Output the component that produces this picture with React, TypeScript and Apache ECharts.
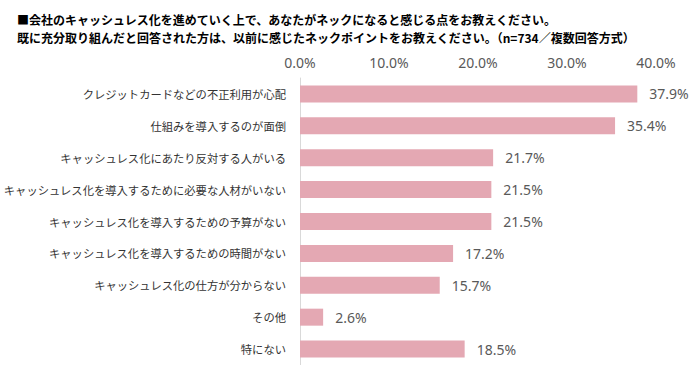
import React, { useEffect, useRef } from "react";
import * as echarts from "echarts";

const titleLines = [
  "■会社のキャッシュレス化を進めていく上で、あなたがネックになると感じる点をお教えください。",
  "既に充分取り組んだと回答された方は、以前に感じたネックポイントをお教えください。（n=734／複数回答方式）",
];

const categories = [
  "クレジットカードなどの不正利用が心配",
  "仕組みを導入するのが面倒",
  "キャッシュレス化にあたり反対する人がいる",
  "キャッシュレス化を導入するために必要な人材がいない",
  "キャッシュレス化を導入するための予算がない",
  "キャッシュレス化を導入するための時間がない",
  "キャッシュレス化の仕方が分からない",
  "その他",
  "特にない",
];

const values = [37.9, 35.4, 21.7, 21.5, 21.5, 17.2, 15.7, 2.6, 18.5];

const FONT = "'Noto Sans CJK JP', 'Noto Sans', sans-serif";
const NUMFONT = "'Noto Sans', 'DejaVu Sans', sans-serif";

export default function App() {
  const ref = useRef<HTMLDivElement>(null);
  useEffect(() => {
    document.body.style.margin = "0";
    const chart = echarts.init(ref.current!, null, { renderer: "svg" });
    chart.setOption({
      animation: false,
      textStyle: { fontFamily: FONT },
      title: {
        text: titleLines.join("\n"),
        left: 12,
        top: 5,
        textStyle: {
          fontFamily: FONT,
          fontSize: 12,
          fontWeight: "bold",
          color: "#000",
          lineHeight: 18,
        },
      },
      grid: { left: 300, right: 44, top: 78, bottom: 0, outerBoundsMode: "none", containLabel: false },
      xAxis: {
        type: "value",
        position: "top",
        min: 0,
        max: 40,
        interval: 10,
        axisLine: { show: false },
        axisTick: { show: false },
        splitLine: { show: false },
        axisLabel: {
          margin: 9,
          fontSize: 14,
          color: "#595959",
          fontFamily: NUMFONT,
          formatter: (v: number) => v.toFixed(1) + "%",
        },
      },
      yAxis: {
        type: "category",
        data: categories,
        inverse: true,
        axisLine: { show: true, lineStyle: { color: "#d9d9d9", width: 1 } },
        axisTick: { show: false },
        axisLabel: {
          margin: 14,
          fontSize: 11.3,
          color: "#333",
          fontFamily: FONT,
        },
      },
      series: [
        {
          type: "bar",
          data: values,
          barWidth: 17,
          itemStyle: { color: "#E4A8B3" },
          label: {
            show: true,
            position: "right",
            distance: 12,
            fontSize: 14,
            color: "#595959",
            fontFamily: NUMFONT,
            formatter: (p: any) => p.value.toFixed(1) + "%",
          },
        },
      ],
    });
    return () => chart.dispose();
  }, []);
  return <div ref={ref} style={{ width: 700, height: 365 }} />;
}
